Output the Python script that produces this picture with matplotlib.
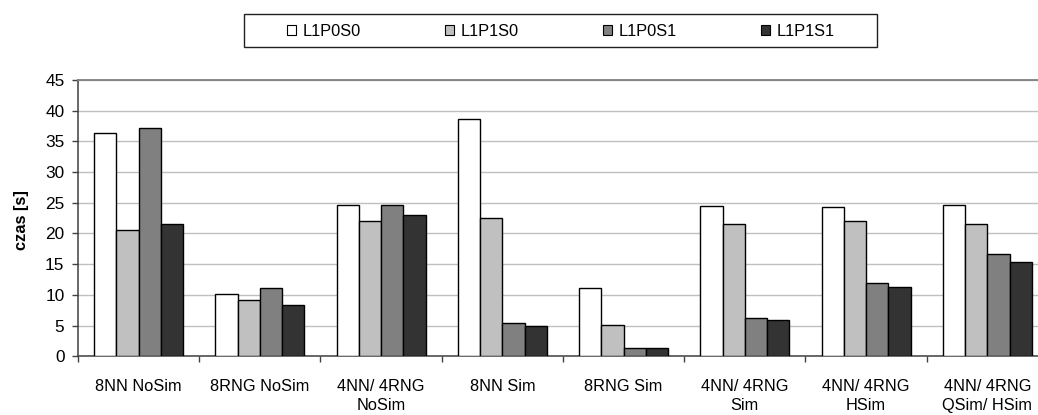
import matplotlib
matplotlib.use("Agg")
import matplotlib.pyplot as plt
from matplotlib.patches import Rectangle, Patch
import numpy as np

plt.rcParams['font.family'] = ['Liberation Sans', 'DejaVu Sans']

categories = ["8NN NoSim", "8RNG NoSim", "4NN/ 4RNG\nNoSim", "8NN Sim", "8RNG Sim",
              "4NN/ 4RNG\nSim", "4NN/ 4RNG\nHSim", "4NN/ 4RNG\nQSim/ HSim"]
series_names = ["L1P0S0", "L1P1S0", "L1P0S1", "L1P1S1"]
L1P0S0 = [36.4, 10.2, 24.7, 38.7, 11.1, 24.5, 24.3, 24.7]
L1P1S0 = [20.6, 9.1, 22.0, 22.5, 5.1, 21.5, 22.0, 21.5]
L1P0S1 = [37.2, 11.1, 24.7, 5.4, 1.3, 6.3, 12.0, 16.6]
L1P1S1 = [21.5, 8.4, 22.95, 4.9, 1.3, 5.85, 11.3, 15.4]
series = [L1P0S0, L1P1S0, L1P0S1, L1P1S1]
colors = ["#ffffff", "#c0c0c0", "#808080", "#333333"]
yticks = list(range(0, 50, 5))

W, H = 1038, 415
fig = plt.figure(figsize=(W / 100, H / 100), dpi=100)
left, right, bottom, top = 78, 1048, 356.3, 79.8
ax = fig.add_axes([left / W, 1 - bottom / H, (right - left) / W, (bottom - top) / H])

fs = 11.8
bw = 0.184
n = len(categories)
x = np.arange(n) + 0.5
for k, (vals, c) in enumerate(zip(series, colors)):
    ax.bar(x + (k - 1.5) * bw, vals, width=bw, color=c, edgecolor="black",
           linewidth=1.0, label=series_names[k], zorder=3)

ax.set_xlim(0, n)
ax.set_ylim(0, 45)
ax.set_yticks(yticks)
ax.yaxis.grid(True, color="#c0c0c0", linewidth=1.0, zorder=0)
ax.set_axisbelow(True)

ax.set_xticks(np.arange(n + 1))
ax.set_xticklabels([])
ax.set_xticks(x, minor=True)
ax.set_xticklabels(categories, minor=True, fontsize=fs, linespacing=1.35, va="top")
ax.tick_params(axis="x", which="minor", length=0, pad=16)
ax.tick_params(axis="x", which="major", length=4.5, width=1.0, color="#404040", direction="out")
ax.tick_params(axis="y", length=4.3, width=1.0, color="#404040", labelsize=fs + 0.6, pad=5.5)

for s in ["left", "bottom"]:
    ax.spines[s].set_color("#404040")
    ax.spines[s].set_linewidth(1.1)
ax.spines["top"].set_color("#808080")
ax.spines["top"].set_linewidth(1.3)
ax.spines["right"].set_visible(False)

ax.set_ylabel("czas [s]", fontsize=fs, fontweight="bold")
ax.yaxis.label.set_va("center")
ax.yaxis.set_label_coords((21 - left) / (right - left), 1 - (220.5 - top) / (bottom - top))

# legend box
fig.patches.append(Rectangle((244 / W, 1 - 47 / H), (877 - 244) / W, (47 - 14.5) / H,
                             transform=fig.transFigure, facecolor="white",
                             edgecolor="#202020", linewidth=1.0))
handles = [Patch(facecolor=c, edgecolor="black", linewidth=0.8) for c in colors]
fig.legend(handles, series_names, loc="center left",
           bbox_to_anchor=(287 / W, 1 - 31 / H), ncol=4, frameon=False,
           fontsize=fs, handlelength=0.55, handleheight=0.55, handletextpad=0.4,
           columnspacing=5.15, borderpad=0, borderaxespad=0)

fig.savefig("out.png", dpi=100)
